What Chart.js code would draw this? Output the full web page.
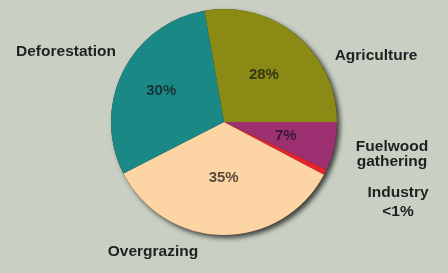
<!DOCTYPE html>
<html><head><meta charset="utf-8">
<script src="https://cdn.jsdelivr.net/npm/chart.js@4/dist/chart.umd.min.js"></script>
<style>
html,body{margin:0;padding:0;background:#c9d0c3;}
#wrap{width:448px;height:273px;position:relative;}
</style></head>
<body><div id="wrap"><canvas id="c" width="448" height="273"></canvas></div>
<script>
const categories = ["Agriculture", "Fuelwood gathering", "Industry", "Overgrazing", "Deforestation"];
const shares = [28, 7, 0.8, 35, 30];
const percentLabels = ["28%", "7%", "", "35%", "30%"];
const outsideLabels = [["Agriculture"], ["Fuelwood", "gathering"], ["Industry", "<1%"], ["Overgrazing"], ["Deforestation"]];
const colors = ["#8a8a14", "#9c3070", "#e4232b", "#fdd4a3", "#1a8986"];

const outsidePos = [[376,56],[392,147],[398,193],[153,252],[66,52]];
const lineGap = [0, 15, 19, 0, 0];
const pctFactor = [0.55, 0.56, 0, 0.49, 0.62];

const shadowPlugin = {
  id:'shadow',
  beforeDatasetsDraw(chart){
    const arc = chart.getDatasetMeta(0).data[0];
    const ctx = chart.ctx;
    ctx.save();
    ctx.shadowColor='rgba(0,0,0,0.7)';
    ctx.shadowBlur=5;
    ctx.shadowOffsetX=3;
    ctx.shadowOffsetY=3;
    ctx.fillStyle='#3a3020';
    ctx.beginPath();
    ctx.arc(arc.x, arc.y, arc.outerRadius, 0, Math.PI*2);
    ctx.fill();
    ctx.restore();
  }
};
const labelPlugin = {
  id:'labels',
  afterDatasetsDraw(chart){
    const ctx = chart.ctx;
    const meta = chart.getDatasetMeta(0);
    ctx.save();
    ctx.textAlign='center';
    ctx.textBaseline='middle';
    meta.data.forEach((arc,i)=>{
      if(!percentLabels[i]) return;
      const mid=(arc.startAngle+arc.endAngle)/2;
      const d=arc.outerRadius*pctFactor[i];
      ctx.font='bold 15px "Liberation Sans", Arial, sans-serif';
      ctx.fillStyle='rgba(20,20,25,0.72)';
      ctx.fillText(percentLabels[i], arc.x+Math.cos(mid)*d, arc.y+Math.sin(mid)*d);
    });
    ctx.font='bold 15.5px "Liberation Sans", Arial, sans-serif';
    ctx.fillStyle='#1f2020';
    outsideLabels.forEach((lines,i)=>{
      const [x,y]=outsidePos[i];
      lines.forEach((t,j)=>ctx.fillText(t,x,y+j*lineGap[i]));
    });
    ctx.restore();
  }
};

new Chart(document.getElementById('c'), {
  type:'pie',
  data:{labels:categories, datasets:[{data:shares, backgroundColor:colors, borderWidth:0}]},
  options:{
    responsive:false, animation:false,
    rotation:-10,
    layout:{padding:{top:9,bottom:38,left:0,right:0}},
    plugins:{legend:{display:false}, tooltip:{enabled:false}}
  },
  plugins:[shadowPlugin,labelPlugin]
});
</script></body></html>
